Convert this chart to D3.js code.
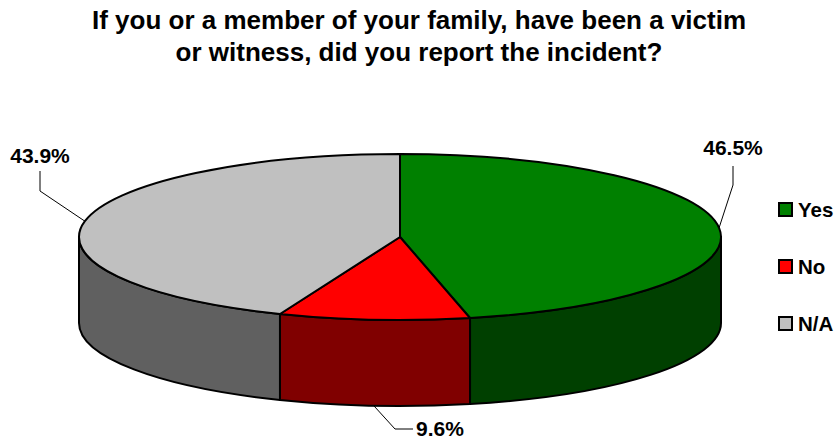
<!DOCTYPE html>
<html>
<head>
<meta charset="utf-8">
<script src="https://cdn.jsdelivr.net/npm/d3@7"></script>
<style>
  body { margin: 0; background: #fff; }
  svg { display: block; font-family: "Liberation Sans", Arial, sans-serif; }
</style>
</head>
<body>
<svg id="chart"></svg>
<script>
// Data
const categories = ["Yes", "No", "N/A"];
const values = [46.5, 9.6, 43.9];
const topColors = ["#008000", "#ff0000", "#c0c0c0"];
const sideColors = ["#004000", "#800000", "#606060"];
const titleLines = [
  "If you or a member of your family, have been a victim",
  "or witness, did you report the incident?"
];

const width = 836, height = 440;
const cx = 400, cy = 237, rx = 321, ry = 83, depth = 86;

const svg = d3.select("#chart").attr("width", width).attr("height", height);

// Title
svg.append("text")
  .attr("x", 419)
  .attr("text-anchor", "middle")
  .attr("font-size", "26px")
  .attr("font-weight", "bold")
  .selectAll("tspan")
  .data(titleLines)
  .enter()
  .append("tspan")
  .attr("x", 419)
  .attr("y", (d, i) => 29 + i * 32)
  .text(d => d);

const pie = d3.pie().sort(null).value(d => d);
const arcs = pie(values);

// point on the top ellipse for a pie angle (clockwise from 12 o'clock)
function pt(a, dy = 0) {
  return [cx + rx * Math.sin(a), cy - ry * Math.cos(a) + dy];
}

function topPath(d) {
  const p0 = pt(d.startAngle), p1 = pt(d.endAngle);
  const large = d.endAngle - d.startAngle > Math.PI ? 1 : 0;
  return `M${cx},${cy} L${p0} A${rx},${ry} 0 ${large} 1 ${p1} Z`;
}

function sidePath(a0, a1) {
  const p0 = pt(a0), p1 = pt(a1);
  const q0 = pt(a0, depth), q1 = pt(a1, depth);
  return `M${p0} A${rx},${ry} 0 0 1 ${p1} L${q1} A${rx},${ry} 0 0 0 ${q0} Z`;
}

// Sides (only front half visible: PI/2 .. 3PI/2)
const sides = svg.append("g");
arcs.forEach((d, i) => {
  const a0 = Math.max(d.startAngle, Math.PI / 2);
  const a1 = Math.min(d.endAngle, Math.PI * 1.5);
  if (a1 > a0) {
    sides.append("path")
      .attr("d", sidePath(a0, a1))
      .attr("fill", sideColors[i])
      .attr("stroke", "#000")
      .attr("stroke-width", 2)
      .attr("stroke-linejoin", "round");
  }
});

// Tops
svg.append("g")
  .selectAll("path")
  .data(arcs)
  .enter()
  .append("path")
  .attr("d", topPath)
  .attr("fill", (d, i) => topColors[i])
  .attr("stroke", "#000")
  .attr("stroke-width", 2)
  .attr("stroke-linejoin", "round");

// Labels with leader lines
const fmt = d => d3.format(".1f")(d) + "%";
const labelLayout = [
  { elbow: [733, 185], end: [733, 166], text: [733, 155], anchor: "middle" },
  { elbow: [395, 429], end: [413, 429], text: [416, 436], anchor: "start" },
  { elbow: [40, 191], end: [40, 171], text: [40, 163], anchor: "middle" }
];

arcs.forEach((d, i) => {
  const mid = (d.startAngle + d.endAngle) / 2;
  const front = Math.cos(mid) < -0.5;
  const a = pt(mid, front ? depth : 0);
  const L = labelLayout[i];
  svg.append("path")
    .attr("d", `M${a} L${L.elbow} L${L.end}`)
    .attr("fill", "none")
    .attr("stroke", "#000")
    .attr("stroke-width", 1);
  svg.append("text")
    .attr("x", L.text[0])
    .attr("y", L.text[1])
    .attr("text-anchor", L.anchor)
    .attr("font-size", "21px")
    .attr("font-weight", "bold")
    .text(fmt(d.data));
});

// Legend
const legend = svg.append("g")
  .selectAll("g")
  .data(categories)
  .enter()
  .append("g")
  .attr("transform", (d, i) => `translate(779,${203 + i * 57})`);

legend.append("rect")
  .attr("width", 13)
  .attr("height", 13)
  .attr("fill", (d, i) => topColors[i])
  .attr("stroke", "#000")
  .attr("stroke-width", 2);

legend.append("text")
  .attr("x", 19)
  .attr("y", 14)
  .attr("font-size", "20.5px")
  .attr("font-weight", "bold")
  .text(d => d);
</script>
</body>
</html>
